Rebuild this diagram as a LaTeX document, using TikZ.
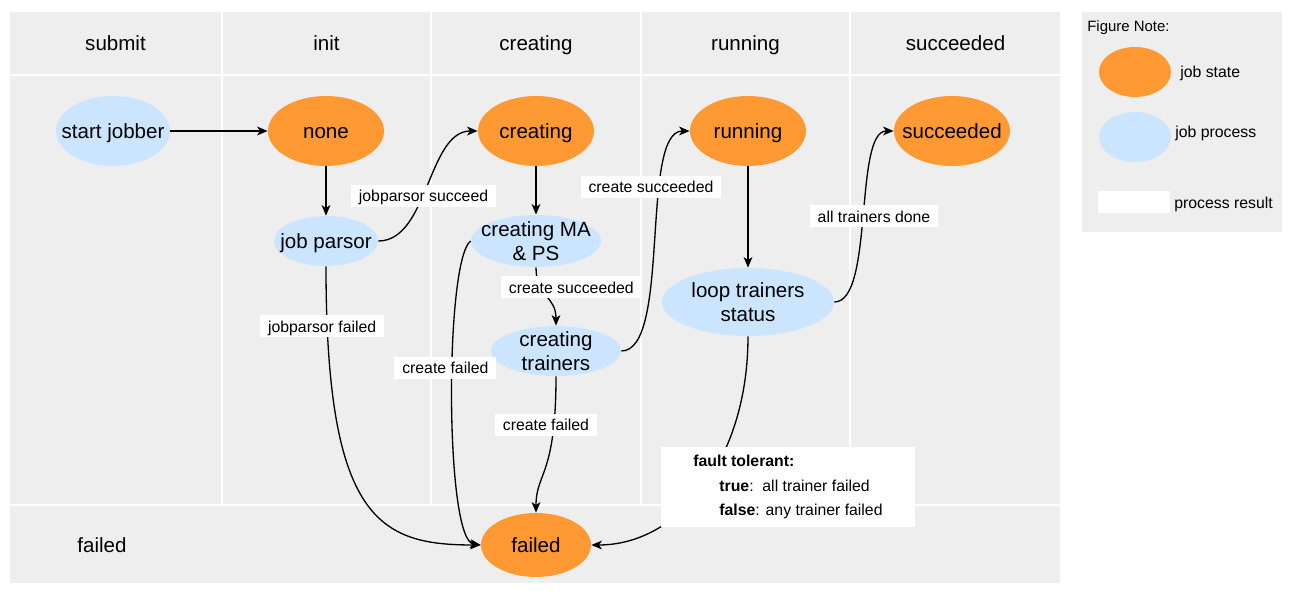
\documentclass[tikz,border=0pt]{standalone}
\usepackage{fontspec}
\setmainfont{Liberation Sans}
\usetikzlibrary{shapes.geometric,arrows.meta}
\definecolor{lanegray}{HTML}{EEEEEE}
\definecolor{stateorange}{HTML}{FF9933}
\definecolor{procblue}{HTML}{CCE5FF}

\begin{document}
\begin{tikzpicture}[x=0.02cm,y=-0.02cm,>={Stealth[length=6pt,width=5pt,inset=1.6pt]},
    big/.style={font=\fontsize{11.7}{13.6}\selectfont},
    small/.style={font=\fontsize{9}{11}\selectfont},
    oneline/.style={text height=10.6pt,text depth=2.4pt},
    smallline/.style={text height=8.6pt,text depth=1.9pt},
    jobstate/.style={ellipse,fill=stateorange,big,oneline,inner xsep=-20pt,inner ysep=-12pt,
        minimum width=2.32cm,minimum height=1.4cm},
    jobproc/.style={ellipse,fill=procblue,big,align=center,inner xsep=-20pt,inner ysep=-12pt},
    result/.style={fill=white,small,smallline,inner xsep=0.16cm,inner ysep=0pt,minimum height=0.44cm},
    flow/.style={->,line width=0.75pt}]

    \useasboundingbox (0,0) rectangle (1292,597);

    % swimlanes
    \fill[lanegray] (10,12) rectangle (1060,583);
    \draw[white,line width=1.2pt] (10,75) -- (1060,75);
    \draw[white,line width=1.2pt] (10,505) -- (1060,505);
    \foreach \x in {222,431,641,850}{
        \draw[white,line width=1.2pt] (\x,12) -- (\x,504);
    }
    \foreach \x/\lbl/\nm in {115.5/submit/hsubmit,326.5/init/hinit,536/creating/hcreating,
            745.5/running/hrunning,955.5/succeeded/hsucceeded}{
        \node[big,oneline] (\nm) at (\x,43) {\lbl};
    }
    \node[big,oneline] (hfailed) at (102,545) {failed};

    % legend
    \fill[lanegray] (1082,12) rectangle (1282,232);
    \node[font=\fontsize{8.5}{10}\selectfont,smallline,anchor=west,inner sep=0pt] (note) at (1087,26) {Figure Note:};
    \node[jobstate,minimum width=1.44cm,minimum height=1cm] (kstate) at (1135,72) {};
    \node[small,smallline,anchor=west,inner sep=0pt] (kstatetxt) at (1180,72) {job state};
    \node[jobproc,minimum width=1.44cm,minimum height=1cm] (kproc) at (1135,137) {};
    \node[small,smallline,anchor=west,inner sep=0pt] (kproctxt) at (1175,132) {job process};
    \node[result,inner xsep=0pt,minimum width=1.44cm] (kresult) at (1134,202) {};
    \node[small,smallline,anchor=west,inner sep=0pt] (kresulttxt) at (1174,203) {process result};

    % states and processes
    \node[jobproc,oneline,minimum width=2.28cm,minimum height=1.4cm] (jobber) at (113,131) {start jobber};
    \node[jobstate] (none) at (326,131) {none};
    \node[jobstate] (creating) at (536,131) {creating};
    \node[jobstate] (running) at (748,131) {running};
    \node[jobstate] (succeeded) at (952,131) {succeeded};
    \node[jobproc,oneline,minimum width=2.08cm,minimum height=1cm] (parsor) at (326,241) {job parsor};
    \node[jobproc,minimum width=2.6cm,minimum height=1.04cm] (mps) at (536,241) {creating MA\\\& PS};
    \node[jobproc,minimum width=2.6cm,minimum height=1cm] (trainers) at (556,351) {creating\\trainers};
    \node[jobproc,minimum width=3.44cm,minimum height=1.36cm] (loop) at (748,302) {loop trainers\\status};
    \node[jobstate,minimum width=2.2cm,minimum height=1.28cm] (failed) at (536,545) {failed};

    % transitions
    \draw[flow] (jobber) -- (none);
    \draw[flow] (none) -- (parsor);
    \draw[flow] (parsor.east) .. controls +(50,0) and +(-50,0) .. (creating.west)
        node[result,pos=0.44] (lparsorok) {jobparsor succeed};
    \draw[flow] (parsor.south) .. controls +(0,254) and +(-101,0) .. (failed.west)
        node[result,pos=0.085,xshift=-0.1cm] (lparsorfail) {jobparsor failed};
    \draw[flow] (creating) -- (mps);
    \draw[flow] (mps.south) .. controls +(0,30) and +(0,-30) .. (trainers.north)
        node[result,pos=0.3,xshift=0.62cm] (lmpsok) {create succeeded};
    \draw[flow] (mps.west) .. controls +(-26,19) and +(-36,-5) .. (failed.west)
        node[result,pos=0.43,xshift=-0.14cm] (lmpsfail) {create failed};
    \draw[flow] (trainers.east) .. controls +(50,0) and +(-50,0) .. (running.west)
        node[result,pos=0.67,xshift=-0.2cm] (ltrainok) {create succeeded};
    \draw[flow] (trainers.south) .. controls +(0,100) and +(0,-40) .. (failed.north)
        node[result,pos=0.2,xshift=-0.16cm] (ltrainfail) {create failed};
    \draw[flow] (running) -- (loop);
    \draw[flow] (loop.east) .. controls +(40,0) and +(-40,0) .. (succeeded.west)
        node[result,pos=0.5,xshift=0.2cm] (ldone) {all trainers done};
    \draw[flow] (loop.south) .. controls +(0,124) and +(87,0) .. (failed.east);
    \node[fill=white,font=\fontsize{9}{13.9}\selectfont,align=left,inner xsep=0.64cm,
        inner ysep=0pt,minimum height=1.6cm] (tolerant) at (788,487)
        {\textbf{fault tolerant:}\\\hspace*{0.52cm}\textbf{true}:\ \ all trainer failed\\
         \hspace*{0.52cm}\textbf{false}: any trainer failed};
\end{tikzpicture}
\end{document}
